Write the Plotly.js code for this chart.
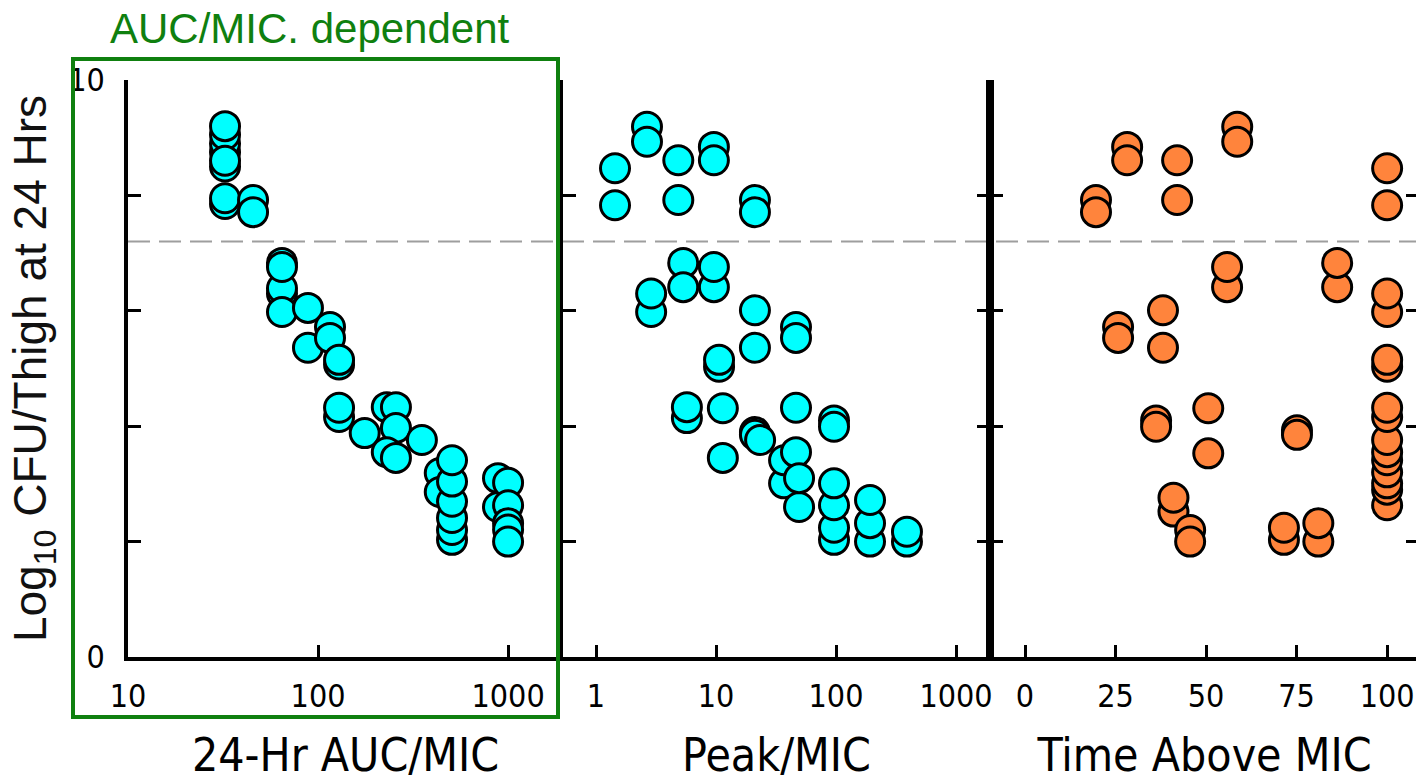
<!DOCTYPE html>
<html>
<head>
<meta charset="utf-8">
<script src="https://cdn.plot.ly/plotly-3.0.1.min.js"></script>
<style>
html, body { margin: 0; padding: 0; overflow: hidden; background: #fff; }
#chart { width: 1420px; height: 783px; }
</style>
</head>
<body>
<div id="chart"></div>
<script>
// ---- Data ----
const aucX = [32.4, 32.4, 32.4, 32.4, 32.4, 32.4, 32.4, 32.4,
  45.5, 45.5,
  64.6, 64.6, 64.6, 64.6, 64.6,
  88.5, 88.5,
  115.6, 115.6,
  129, 129, 129, 129,
  176, 230, 257, 257, 230, 257,
  352,
  437, 437, 507, 507, 507, 507, 507, 507,
  885, 885, 1000, 1000, 1000, 1000, 1000];
const aucY = [7.85, 7.95, 8.5, 8.75, 8.9, 9.05, 9.2, 8.6,
  7.92, 7.71,
  6.83, 6.3, 6.39, 5.98, 6.76,
  6.05, 5.36,
  5.72, 5.53,
  5.07, 5.15, 4.16, 4.32,
  3.88, 4.33, 4.33, 3.97, 3.55, 3.45,
  3.76,
  3.19, 2.86, 2.03, 2.2, 2.41, 2.69, 3.04, 3.41,
  3.1, 2.6, 3.02, 2.63, 2.32, 2.21, 2.0];

const peakX = [1.44, 1.44, 2.66, 2.66, 4.85, 4.85, 9.6, 9.6, 21.1, 21.1,
  5.33, 5.33, 9.6, 9.6, 2.88, 2.88, 21.1, 21.1, 46.4, 46.4,
  10.6, 10.6, 5.72, 5.72, 11.4, 11.4, 21.1, 21.1, 23.3, 46.4,
  96.2, 96.2, 36.9, 36.9, 46.4, 49.2, 49.2,
  96.2, 96.2, 96.2, 96.2, 192, 192, 192, 390, 390];
const peakY = [8.47, 7.83, 9.19, 8.93, 8.61, 7.92, 8.84, 8.61, 7.92, 7.71,
  6.83, 6.41, 6.41, 6.76, 5.98, 6.3, 6.01, 5.36, 5.72, 5.53,
  5.03, 5.15, 4.14, 4.33, 4.31, 3.45, 3.9, 3.85, 3.76, 4.32,
  4.1, 3.99, 3.01, 3.41, 3.55, 2.6, 3.1,
  2.03, 2.24, 2.63, 3.01, 2.0, 2.32, 2.72, 2.0, 2.17];

const timeX = [19.6, 19.6, 28.2, 28.2, 42, 42, 58.6, 58.6, 100, 100,
  55.8, 55.8, 86.2, 86.2, 100, 100, 25.7, 25.7, 38.1, 38.1,
  100, 100, 36.2, 36.2, 50.6, 50.6, 75.1, 75.1,
  100, 100, 100, 100, 100, 100, 100, 100, 100,
  41, 41, 45.6, 45.6, 71.5, 71.5, 81, 81];
const timeY = [7.92, 7.71, 8.84, 8.61, 8.61, 7.92, 9.19, 8.93, 8.47, 7.83,
  6.41, 6.76, 6.41, 6.83, 5.98, 6.3, 5.72, 5.53, 6.01, 5.36,
  5.03, 5.15, 4.1, 3.99, 4.31, 3.53, 3.93, 3.85,
  2.63, 2.9, 3.01, 3.2, 3.41, 3.55, 3.76, 4.16, 4.32,
  2.52, 2.76, 2.2, 2.0, 2.03, 2.24, 2.0, 2.32];

const xTitles = ['24-Hr AUC/MIC', 'Peak/MIC', 'Time Above MIC'];
const yTitle = 'Log<sub>10</sub> CFU/Thigh at 24 Hrs';
const panelTitle = 'AUC/MIC. dependent';
const yLabelVals = [0, 10];
const yMinorVals = [2, 4, 6, 8];
const yTickVals = [0, 2, 4, 6, 8, 10];
const aucTicks = [10, 100, 1000];
const peakTicks = [1, 10, 100, 1000];
const timeTicks = [0, 25, 50, 75, 100];
const threshold = 7.2;

// ---- Styling ----
const NARROW = 'DejaVu Sans Condensed, Liberation Sans, Arial, sans-serif';
const SANS = 'Liberation Sans, Arial, sans-serif';
const TICKSIZE = 32;
const cyan = '#00ffff';
const orange = '#ff843c';
const green = '#0f800f';

function mk(color) {
  return { size: 29, color: color, line: { color: '#000', width: 3 } };
}

const traces = [
  { x: aucX, y: aucY, xaxis: 'x', yaxis: 'y', type: 'scatter', mode: 'markers', marker: mk(cyan), cliponaxis: false, hoverinfo: 'x+y' },
  { x: peakX, y: peakY, xaxis: 'x2', yaxis: 'y2', type: 'scatter', mode: 'markers', marker: mk(cyan), cliponaxis: false, hoverinfo: 'x+y' },
  { x: timeX, y: timeY, xaxis: 'x3', yaxis: 'y3', type: 'scatter', mode: 'markers', marker: mk(orange), cliponaxis: false, hoverinfo: 'x+y' }
];

const d1 = 435 / 1291, d2 = 862 / 1291;

function xax(domain, type, range, ticks, title, anchor) {
  return {
    domain: domain, type: type, range: range, anchor: anchor,
    tickmode: 'array', tickvals: ticks, ticktext: ticks.map(String),
    ticks: 'inside', ticklen: 12, tickwidth: 2.5, tickcolor: '#000',
    showline: true, linecolor: '#000', linewidth: 3.5,
    showgrid: false, zeroline: false,
    tickfont: { family: NARROW, size: TICKSIZE, color: '#000' },
    ticklabelstandoff: 8,
    title: { text: title, font: { family: NARROW, size: 46, color: '#000' }, standoff: 26 },
    automargin: false, fixedrange: true
  };
}
function yax(anchor, labels, mirror) {
  const ax = {
    anchor: anchor, range: [0, 10], domain: [0, 1],
    tickmode: 'array',
    ticks: 'inside', ticklen: 13, tickwidth: 2.5, tickcolor: '#000',
    showline: true, linecolor: '#000', linewidth: 3.5, mirror: mirror,
    showgrid: false, zeroline: false, automargin: false, fixedrange: true,
    tickfont: { family: NARROW, size: TICKSIZE, color: '#000' },
    ticklabelstandoff: 13
  };
  if (labels) {
    ax.tickvals = yLabelVals;
    ax.ticktext = yLabelVals.map(String);
    ax.minor = { tickmode: 'array', tickvals: yMinorVals, ticks: 'inside', ticklen: 13, tickwidth: 2.5, tickcolor: '#000', showgrid: false };
  } else {
    ax.tickvals = yTickVals;
    ax.showticklabels = false;
  }
  return ax;
}

const layout = {
  width: 1420, height: 783,
  margin: { l: 128, r: 1, t: 80, b: 126 },
  paper_bgcolor: '#fff', plot_bgcolor: 'rgba(0,0,0,0)',
  showlegend: false,
  font: { family: NARROW, size: TICKSIZE, color: '#000' },
  xaxis: xax([0, d1], 'log', [1, 3.289], aucTicks, xTitles[0], 'y'),
  xaxis2: xax([d1, d2], 'log', [-0.275, 3.283], peakTicks, xTitles[1], 'y2'),
  xaxis3: xax([d2, 1], 'linear', [-9.67, 108.8], timeTicks, xTitles[2], 'y3'),
  yaxis: Object.assign(yax('x', true, false), {
    title: { text: yTitle, font: { family: SANS, size: 46, color: '#111' }, standoff: 8 }
  }),
  yaxis2: yax('x2', false, 'ticks'),
  yaxis3: yax('x3', false, 'ticks'),
  shapes: [
    { type: 'line', xref: 'paper', yref: 'y', x0: 0, x1: 1, y0: threshold, y1: threshold,
      line: { color: '#9e9e9e', width: 2, dash: '22px,9px' }, layer: 'below' },
    { type: 'rect', xref: 'paper', yref: 'paper',
      x0: -55 / 1291, x1: 430 / 1291, y0: -60 / 577, y1: 598 / 577,
      line: { color: green, width: 4 }, fillcolor: 'rgba(0,0,0,0)', layer: 'above' }
  ],
  annotations: [
    { text: panelTitle, xref: 'paper', yref: 'paper', x: 182 / 1291, y: 629 / 577,
      xanchor: 'center', yanchor: 'middle', showarrow: false,
      font: { family: SANS, size: 42, color: green } }
  ]
};

Plotly.newPlot('chart', traces, layout, { displayModeBar: false, responsive: false });
</script>
</body>
</html>
